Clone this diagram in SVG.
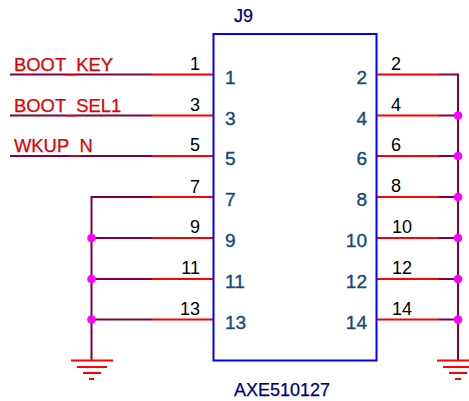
<svg xmlns="http://www.w3.org/2000/svg" width="469" height="401" viewBox="0 0 469 401">
<style>
text{font-family:"Liberation Sans",Arial,sans-serif}
.w{stroke:#800040;stroke-width:2;fill:none}
.p{stroke:#ff0000;stroke-width:2;fill:none}
.g{stroke:#ff0000;stroke-width:2;fill:none}
.d{fill:#ff00ff}
.n{font-size:18px;fill:#000}
.i{font-size:19px;fill:#174a7c;stroke:#174a7c;stroke-width:.4px}
.l{font-size:18.400px;fill:#e00000;stroke:#e00000;stroke-width:.25px}
.t{font-size:18px;fill:#000080;stroke:#000080;stroke-width:.25px}
</style>
<rect width="469" height="401" fill="#fff"/>
<g id="connectors">
<path class="w" d="M10 74.500H152M10 115.500H152M10 156H152M152 197H91.500V360M91.500 238H152M91.500 279H152M91.500 319.500H152"/>
<path class="w" d="M439 74.500H458V360M439 115.500H458M439 156H458M439 197H458M439 238H458M439 279H458M439 319.500H458"/>
<path class="p" d="M152 74.500H213M152 115.500H213M152 156H213M152 197H213M152 238H213M152 279H213M152 319.500H213"/>
<path class="p" d="M377 74.500H439M377 115.500H439M377 156H439M377 197H439M377 238H439M377 279H439M377 319.500H439"/>
<g class="d"><circle cx="91.500" cy="238" r="4.300"/><circle cx="91.500" cy="279" r="4.300"/><circle cx="91.500" cy="319.500" r="4.300"/><circle cx="458" cy="115.500" r="4.300"/><circle cx="458" cy="156" r="4.300"/><circle cx="458" cy="197" r="4.300"/><circle cx="458" cy="238" r="4.300"/><circle cx="458" cy="279" r="4.300"/><circle cx="458" cy="319.500" r="4.300"/></g>
</g>
<g id="J9">
<rect x="213.500" y="34" width="163" height="326.500" fill="none" stroke="#0000ff" stroke-width="2"/>
<text class="t" x="234" y="22">J9</text>
<text class="t" x="234" y="396">AXE510127</text>
<g class="i" text-anchor="start">
<text x="225" y="84">1</text><text x="225" y="125">3</text><text x="225" y="165">5</text><text x="225" y="206">7</text><text x="225" y="247">9</text><text x="225" y="288">11</text><text x="225" y="329">13</text>
</g>
<g class="i" text-anchor="end">
<text x="367" y="84">2</text><text x="367" y="125">4</text><text x="367" y="165">6</text><text x="367" y="206">8</text><text x="367" y="247">10</text><text x="367" y="288">12</text><text x="367" y="329">14</text>
</g>
<g class="n" text-anchor="end">
<text x="200" y="70">1</text><text x="200" y="111">3</text><text x="200" y="151">5</text><text x="200" y="193">7</text><text x="200" y="233">9</text><text x="200" y="274">11</text><text x="200" y="315">13</text>
</g>
<g class="n">
<text x="391" y="70">2</text><text x="391" y="111">4</text><text x="391" y="151">6</text><text x="391" y="192">8</text><text x="392" y="233">10</text><text x="392" y="274">12</text><text x="392" y="315">14</text>
</g>
</g>
<g id="net-labels">
<text class="l" x="14" y="71">BOOT_KEY</text>
<text class="l" x="14" y="112">BOOT_SEL1</text>
<text class="l" x="14" y="152">WKUP_N</text>
</g>
<g id="gnd-left"><path class="g" d="M71 360.500H113M77 367H107M83 373H101M89 379H94"/></g>
<g id="gnd-right"><path class="g" d="M437 360.500H479M443 367H473M449 373H467M455 379H461"/></g>
</svg>
